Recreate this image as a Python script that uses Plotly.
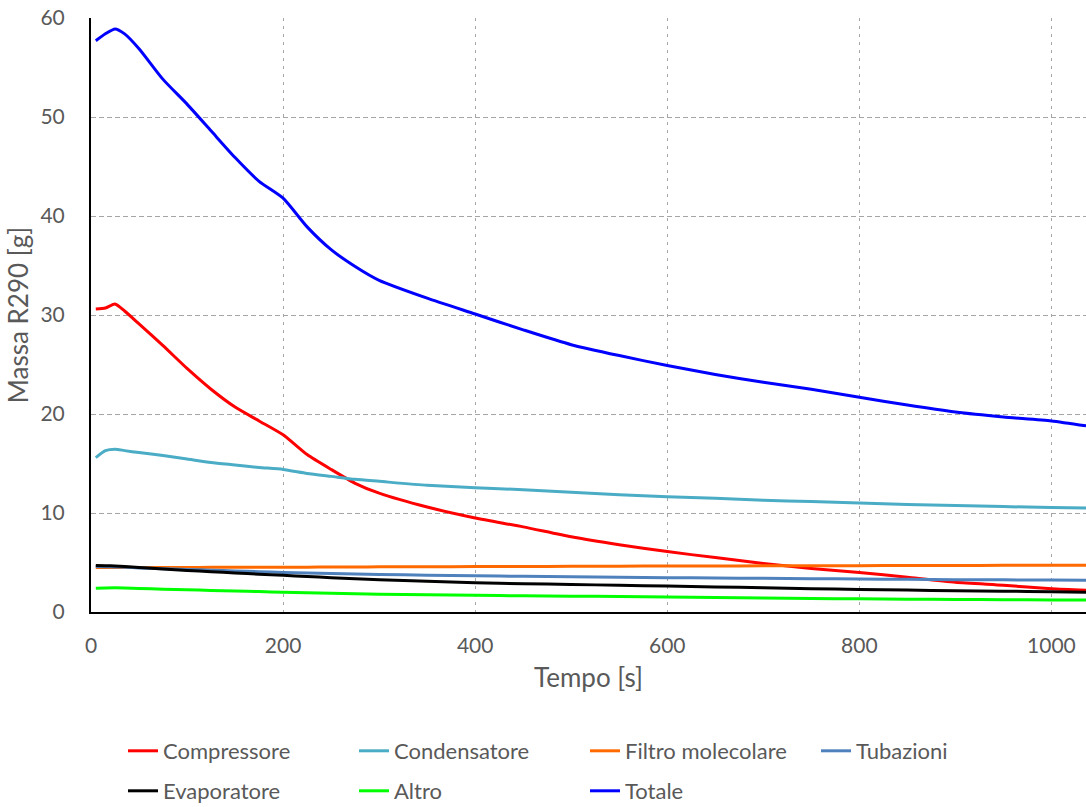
import plotly.graph_objects as go

# Tempo [s]
tempo = [5, 15, 25, 35, 50, 75, 100, 125, 150, 175, 200, 225, 250, 275, 300,
         350, 400, 450, 500, 550, 600, 650, 700, 750, 800, 850, 900, 950, 1000, 1036]

# Massa R290 [g] per componente
compressore = [30.6, 30.7, 31.1, 30.4, 29.1, 26.9, 24.6, 22.5, 20.7, 19.3, 17.9, 15.9, 14.4, 13.0, 12.0,
               10.6, 9.5, 8.6, 7.6, 6.8, 6.1, 5.5, 4.9, 4.4, 4.0, 3.5, 3.0, 2.7, 2.35, 2.2]
condensatore = [15.6, 16.3, 16.45, 16.3, 16.1, 15.8, 15.45, 15.1, 14.85, 14.6, 14.4, 14.0, 13.7, 13.4, 13.2,
                12.8, 12.55, 12.35, 12.1, 11.85, 11.65, 11.5, 11.3, 11.15, 11.0, 10.85, 10.75, 10.65, 10.55, 10.5]
filtro = [4.5, 4.5, 4.5, 4.5, 4.5, 4.5, 4.5, 4.51, 4.51, 4.52, 4.52, 4.53, 4.54, 4.55, 4.56,
          4.57, 4.59, 4.6, 4.61, 4.63, 4.64, 4.65, 4.66, 4.67, 4.68, 4.69, 4.7, 4.71, 4.72, 4.72]
tubazioni = [4.6, 4.58, 4.55, 4.52, 4.45, 4.38, 4.3, 4.22, 4.15, 4.07, 4.0, 3.95, 3.9, 3.85, 3.8,
             3.72, 3.65, 3.6, 3.55, 3.51, 3.47, 3.44, 3.4, 3.37, 3.33, 3.3, 3.27, 3.25, 3.22, 3.2]
evaporatore = [4.7, 4.68, 4.65, 4.6, 4.5, 4.35, 4.2, 4.07, 3.95, 3.82, 3.7, 3.58, 3.47, 3.36, 3.25,
               3.1, 2.95, 2.86, 2.78, 2.7, 2.62, 2.53, 2.45, 2.36, 2.28, 2.21, 2.15, 2.1, 2.05, 2.0]
altro = [2.4, 2.43, 2.45, 2.43, 2.38, 2.31, 2.25, 2.18, 2.12, 2.06, 2.0, 1.95, 1.9, 1.85, 1.8,
         1.74, 1.68, 1.64, 1.6, 1.56, 1.52, 1.47, 1.42, 1.37, 1.33, 1.3, 1.27, 1.24, 1.22, 1.2]
totale = [57.7, 58.4, 58.9, 58.4, 56.9, 53.8, 51.3, 48.6, 45.9, 43.5, 41.8, 38.9, 36.6, 34.9, 33.5,
          31.7, 30.1, 28.5, 27.0, 25.9, 24.9, 24.0, 23.2, 22.5, 21.7, 20.9, 20.2, 19.7, 19.3, 18.8]

serie = [
    ("Compressore", compressore, "#FF0000", "legend"),
    ("Condensatore", condensatore, "#4BACC6", "legend"),
    ("Filtro molecolare", filtro, "#FF6A00", "legend"),
    ("Tubazioni", tubazioni, "#4F81BD", "legend"),
    ("Evaporatore", evaporatore, "#000000", "legend2"),
    ("Altro", altro, "#00FF00", "legend2"),
    ("Totale", totale, "#0000FF", "legend2"),
]

FONT = "Lato"
GREY = "#595959"

fig = go.Figure()
for nome, valori, colore, leg in serie:
    fig.add_trace(go.Scatter(
        x=tempo, y=valori, name=nome, mode="lines",
        line=dict(color=colore, width=3, shape="spline", smoothing=0.6),
        legend=leg,
    ))

legend_style = dict(
    orientation="h",
    entrywidth=186, entrywidthmode="pixels",
    font=dict(family=FONT, size=22, color=GREY),
    xref="container", yref="container",
    xanchor="left", yanchor="middle",
    bgcolor="rgba(0,0,0,0)", borderwidth=0,
    traceorder="normal",
)

title_font = dict(family=FONT, size=26, color=GREY)
tick_font = dict(family=FONT, size=21, color=GREY)

fig.update_layout(
    width=1086, height=807,
    margin=dict(l=91, r=0, t=18, b=195),
    paper_bgcolor="white", plot_bgcolor="white",
    font=dict(family=FONT, size=21, color=GREY),
    showlegend=True,
    legend=dict(legend_style, x=123 / 1086, y=1 - 751 / 807),
    legend2=dict(legend_style, x=123 / 1086, y=1 - 791 / 807),
    xaxis=dict(
        range=[0, 1036], tickvals=[0, 200, 400, 600, 800, 1000],
        showgrid=True, gridcolor="#A6A6A6", gridwidth=1, griddash="3px,5px",
        showline=True, linecolor="#000000", linewidth=2,
        zeroline=False, ticks="", ticklabelstandoff=14,
        tickfont=tick_font,
        title=dict(text="Tempo [s]", font=title_font, standoff=13),
    ),
    yaxis=dict(
        range=[0, 60], tickvals=[0, 10, 20, 30, 40, 50, 60],
        showgrid=True, gridcolor="#A6A6A6", gridwidth=1, griddash="5px,3px",
        showline=True, linecolor="#000000", linewidth=2,
        zeroline=False, ticks="", ticklabelstandoff=20,
        tickfont=tick_font,
        title=dict(text="Massa R290 [g]", font=title_font, standoff=4),
    ),
)

fig.write_html("out.html")
